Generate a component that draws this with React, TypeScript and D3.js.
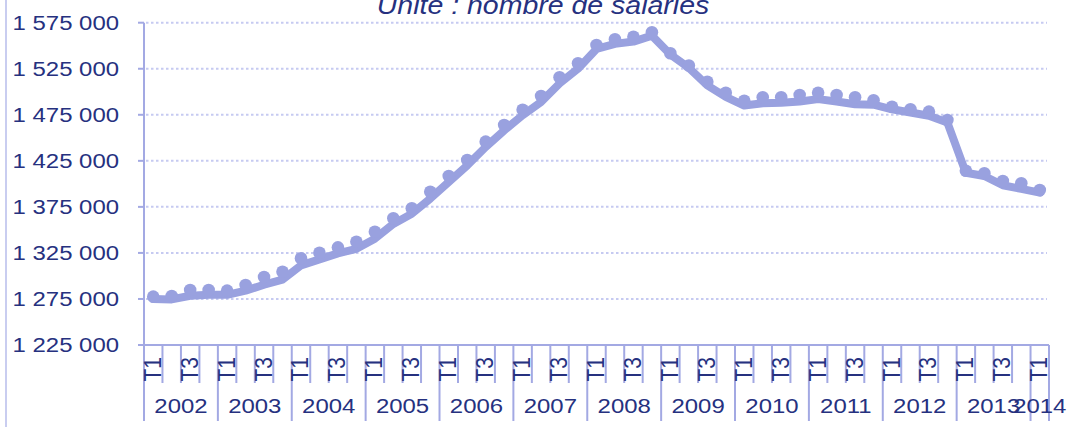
import React from "react";
import * as d3 from "d3";

const years = ["2002","2003","2004","2005","2006","2007","2008","2009","2010","2011","2012","2013","2014"];
const quarters = ["T1","T2","T3","T4"];
const yTicks = [1225000, 1275000, 1325000, 1375000, 1425000, 1475000, 1525000, 1575000];

// Points (markers), 2002 T1 .. 2014 T1
const dotValues = [
  1277500, 1278200, 1284700, 1284700, 1284000, 1290200, 1298900, 1304600,
  1319200, 1325200, 1331000, 1337200, 1348000, 1362600, 1373500, 1391500,
  1408500, 1425900, 1445800, 1463900, 1480500, 1495400, 1515700, 1530900,
  1550800, 1557000, 1559800, 1564600, 1541800, 1528500, 1510900, 1499000,
  1490300, 1494000, 1494000, 1496500, 1499000, 1496500, 1494000, 1490700,
  1483800, 1481000, 1478400, 1469300, 1414300, 1411500, 1403100, 1400600,
  1393300,
];

// Thick line, 2002 T1 .. 2014 T1
const lineValues = [
  1275000, 1274500, 1278500, 1279500, 1279500, 1284000, 1290500, 1296000,
  1311500, 1318000, 1324500, 1329500, 1340500, 1356500, 1367500, 1384000,
  1402000, 1420000, 1440000, 1458000, 1474500, 1489000, 1509000, 1525000,
  1546500, 1552000, 1554500, 1561000, 1540500, 1526000, 1507000, 1494500,
  1485000, 1487500, 1488000, 1489500, 1492000, 1489500, 1486500, 1486000,
  1481000, 1477500, 1474000, 1466500, 1412000, 1408500, 1398500, 1394500,
  1390500,
];

const title = "Unité : nombre de salariés";

const categories: { year: string; q: string; key: string }[] = [];
years.forEach((y) => {
  quarters.forEach((q) => {
    if (categories.length < dotValues.length) categories.push({ year: y, q, key: `${y}-${q}` });
  });
});

const W = 1072;
const H = 427;
const X0 = 144;
const X1 = 1049;
const Y_TOP = 22.7;
const Y_BOT = 345;

const TEXT = "#26317f";
const SERIES = "#99a1df";
const AXIS = "#a3a9e3";
const GRID = "#c6caf1";
const FONT = "'Liberation Sans', Arial, sans-serif";
const SX = 1.14;

export default function App() {
  const x = d3.scaleBand<string>().domain(categories.map((c) => c.key)).range([X0, X1]).padding(0);
  const y = d3.scaleLinear().domain([1225000, 1575000]).range([Y_BOT, Y_TOP]);
  const bw = x.bandwidth();
  const cx = (i: number) => (x(categories[i].key) as number) + bw / 2;

  const line = d3
    .line<number>()
    .x((_, i) => cx(i))
    .y((d) => y(d))
    .curve(d3.curveLinear);

  const fmt = (v: number) => d3.format(",")(v).replace(/,/g, " ");

  const yearSpans = years.map((yr) => {
    const idx = categories.map((c, i) => (c.year === yr ? i : -1)).filter((i) => i >= 0);
    const start = x(categories[idx[0]].key) as number;
    const end = (x(categories[idx[idx.length - 1]].key) as number) + bw;
    return { yr, start, end };
  });

  return (
    <svg width={W} height={H} style={{ position: "absolute", left: 0, top: 0, background: "#fff" }}>
      <line x1={6} x2={6} y1={0} y2={H} stroke="#c9cdf0" strokeWidth={2} />

      <text
        transform={`translate(543,13.5) scale(${SX},1)`}
        textAnchor="middle"
        fontFamily={FONT}
        fontStyle="italic"
        fontSize={25}
        fill={TEXT}
      >
        {title}
      </text>

      {yTicks.slice(1).map((t) => (
        <line
          key={`g${t}`}
          x1={X0 + 2}
          x2={X1 - 2}
          y1={y(t)}
          y2={y(t)}
          stroke={GRID}
          strokeWidth={2}
          strokeDasharray="2.5,2.5"
        />
      ))}

      <line x1={X0} x2={X0} y1={Y_TOP} y2={Y_BOT} stroke={AXIS} strokeWidth={2} />
      {yTicks.map((t) => (
        <g key={`yt${t}`}>
          <line x1={X0 - 6} x2={X0} y1={y(t)} y2={y(t)} stroke={AXIS} strokeWidth={2} />
          <text
            transform={`translate(119,${y(t)}) scale(${SX},1)`}
            textAnchor="end"
            dominantBaseline="central"
            fontFamily={FONT}
            fontSize={21}
            fill={TEXT}
          >
            {fmt(t)}
          </text>
        </g>
      ))}

      <line x1={X0} x2={X1} y1={Y_BOT} y2={Y_BOT} stroke={AXIS} strokeWidth={2} />
      {categories.map((c) => {
        const left = x(c.key) as number;
        const isYearStart = c.q === "T1";
        return (
          <line
            key={`xt${c.key}`}
            x1={left}
            x2={left}
            y1={Y_BOT}
            y2={isYearStart ? 421 : 383}
            stroke={AXIS}
            strokeWidth={2}
          />
        );
      })}
      <line x1={X1} x2={X1} y1={Y_BOT} y2={421} stroke={AXIS} strokeWidth={2} />

      {categories.map((c, i) =>
        c.q === "T1" || c.q === "T3" ? (
          <text
            key={`xl${c.key}`}
            transform={`translate(${cx(i) + 7.5},357) scale(${SX},1) rotate(-90)`}
            textAnchor="end"
            fontFamily={FONT}
            fontSize={21}
            fill={TEXT}
          >
            {c.q}
          </text>
        ) : null
      )}

      {yearSpans.map((s) => (
        <text
          key={`yr${s.yr}`}
          transform={`translate(${(s.start + s.end) / 2},413) scale(${SX},1)`}
          textAnchor="middle"
          fontFamily={FONT}
          fontSize={21}
          fill={TEXT}
        >
          {s.yr}
        </text>
      ))}

      <path
        d={line(lineValues) || ""}
        fill="none"
        stroke={SERIES}
        strokeWidth={8}
        strokeLinejoin="round"
        strokeLinecap="round"
      />
      {dotValues.map((v, i) => (
        <circle key={`d${i}`} cx={cx(i)} cy={y(v)} r={6.3} fill={SERIES} />
      ))}
    </svg>
  );
}
